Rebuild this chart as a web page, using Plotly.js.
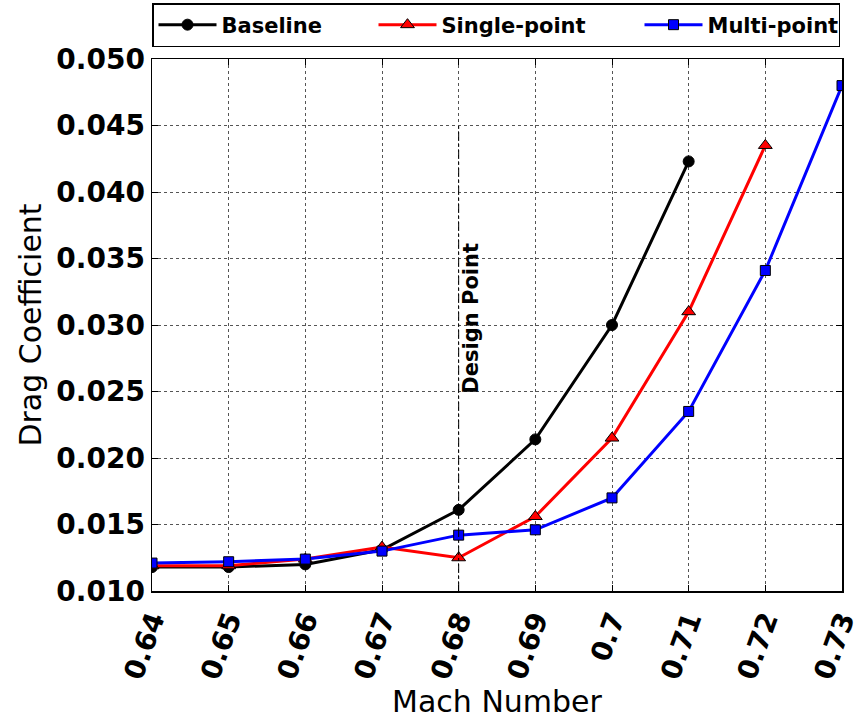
<!DOCTYPE html>
<html>
<head>
<meta charset="utf-8">
<script src="https://cdn.plot.ly/plotly-3.0.1.min.js"></script>
<style>html,body{margin:0;padding:0;background:#fff;}#chart{width:866px;height:720px;}</style>
</head>
<body>
<div id="chart"></div>
<script>
const machBaseline = [0.64, 0.65, 0.66, 0.67, 0.68, 0.69, 0.70, 0.71];
const cdBaseline   = [0.0118, 0.0118, 0.0120, 0.0131, 0.0161, 0.0214, 0.0300, 0.0423];
const machSingle   = [0.64, 0.65, 0.66, 0.67, 0.68, 0.69, 0.70, 0.71, 0.72];
const cdSingle     = [0.0119, 0.0119, 0.0124, 0.0133, 0.0125, 0.0156, 0.0215, 0.0310, 0.0435];
const machMulti    = [0.64, 0.65, 0.66, 0.67, 0.68, 0.69, 0.70, 0.71, 0.72, 0.73];
const cdMulti      = [0.0121, 0.0122, 0.0124, 0.0130, 0.0142, 0.0146, 0.0170, 0.0235, 0.0341, 0.0480];
const xTickVals    = [0.64, 0.65, 0.66, 0.67, 0.68, 0.69, 0.70, 0.71, 0.72, 0.73];
const xTickText    = ["0.64", "0.65", "0.66", "0.67", "0.68", "0.69", "0.7", "0.71", "0.72", "0.73"];
const designMach   = 0.68;
const designLineTop = 0.045;

const F = "DejaVu Sans, sans-serif";

const traces = [
  {x: machBaseline, y: cdBaseline, name: "Baseline", mode: "lines+markers", legendwidth: 147,
   line: {color: "black", width: 3},
   marker: {symbol: "circle", size: 11, color: "black", line: {color: "black", width: 1}}},
  {x: machSingle, y: cdSingle, name: "Single-point", mode: "lines+markers", legendwidth: 193,
   line: {color: "#ff0000", width: 3},
   marker: {symbol: "triangle-up", size: 12, color: "#ff0000", line: {color: "black", width: 1}}},
  {x: machMulti, y: cdMulti, name: "Multi-point", mode: "lines+markers", legendwidth: 126,
   line: {color: "#0000ff", width: 3},
   marker: {symbol: "square", size: 10, color: "#0000ff", line: {color: "black", width: 1}}}
];

const layout = {
  width: 866, height: 720,
  margin: {l: 152, r: 24, t: 59, b: 129},
  paper_bgcolor: "white", plot_bgcolor: "white",
  showlegend: true,
  legend: {orientation: "h", xref: "paper", x: 0.0, xanchor: "left",
           yref: "container", y: 0.9347, yanchor: "bottom",
           bordercolor: "black", borderwidth: 1.5, bgcolor: "white",
           font: {family: F, size: 21, color: "black", weight: "bold"},
           itemwidth: 58},
  xaxis: {
    range: [0.64, 0.73], tickvals: xTickVals, ticktext: xTickText, tickangle: -70,
    tickfont: {family: F, size: 28, color: "black", weight: "bold"},
    showgrid: true, gridcolor: "#555", griddash: "dot", gridwidth: 1,
    showline: true, linecolor: "black", linewidth: 1.5, mirror: "ticks",
    ticks: "inside", ticklen: 6, tickcolor: "black",
    zeroline: false,
    title: {text: "Mach Number", font: {family: F, size: 30, color: "black"}, standoff: 8}
  },
  yaxis: {
    range: [0.010, 0.050], dtick: 0.005, tick0: 0.010, tickformat: ".3f",
    tickfont: {family: F, size: 28, color: "black", weight: "bold"},
    showgrid: true, gridcolor: "#555", griddash: "dot", gridwidth: 1,
    showline: true, linecolor: "black", linewidth: 1.5, mirror: "ticks",
    ticks: "inside", ticklen: 6, tickcolor: "black",
    zeroline: false,
    title: {text: "Drag Coefficient", font: {family: F, size: 30, color: "black"}, standoff: 6}
  },
  shapes: [{type: "line", xref: "x", yref: "y", x0: designMach, x1: designMach,
            y0: 0.010, y1: designLineTop, line: {color: "black", width: 1, dash: "dashdot"}}],
  annotations: [{xref: "x", yref: "y", x: designMach, y: 0.0247, xanchor: "left", yanchor: "bottom",
                 text: "Design Point", textangle: -90, showarrow: false, xshift: -2,
                 font: {family: F, size: 21, color: "black", weight: "bold"}}]
};

Plotly.newPlot("chart", traces, layout, {displayModeBar: false, staticPlot: true});
</script>
</body>
</html>
